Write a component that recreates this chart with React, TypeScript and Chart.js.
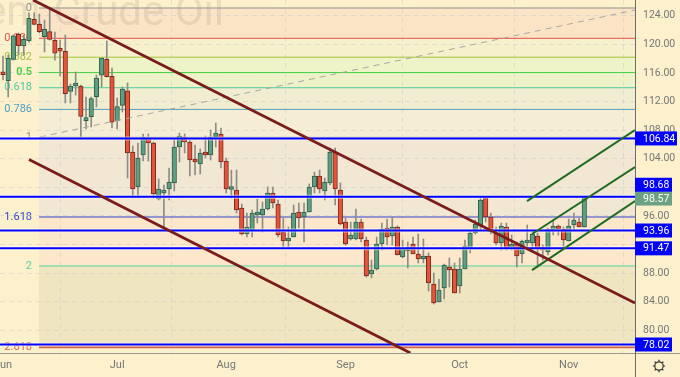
import React, { useEffect, useRef } from "react";
import { Chart, registerables } from "chart.js";

Chart.register(...registerables);

const opens = [116.03,114.91,117.9,121.4,119.77,120.5,123.5,122.8,121.07,121.77,120.56,119.44,119.03,113.43,114.17,114.17,109.32,109.88,112.68,115.67,117.9,115.53,109.32,111.47,113.5,104.94,100.05,104.52,106.9,106.2,98.37,99.21,99.77,100.61,105.64,107.04,106.34,103.82,103.26,104.66,104.52,107.04,107.46,103.68,99.7,99.63,97.11,93.47,94.03,96.13,96.13,96.97,99.21,97.67,93.75,92.49,93.05,96.55,95.85,96.55,100.05,101.58,99.49,100.61,104.94,99.63,95.15,92.77,92.77,95.15,92.63,87.88,88.58,92.07,94.31,93.19,94.45,90.26,91.1,92.07,90.68,89.98,90.4,86.48,83.96,85.92,88.86,88.58,86.2,88.58,91.52,93.61,94.59,98.51,95.85,93.61,92.21,94.45,91.65,92.07,90.68,92.21,92.21,93.19,91.51,90.96,94.03,94.45,94.17,92.49,94.73,95.15,94.45];
const highs = [118.37,118.51,121.3,121.58,121.3,124.4,124.4,124.24,123.4,125.08,121.72,120.6,121.3,114.45,116.13,114.3,112.63,112.63,115.71,118.09,120.47,116.69,112.49,114.03,114.6,105.78,106.2,107.46,107.46,106.34,101.17,100.33,102.7,106.62,107.6,107.46,106.62,105.92,105.36,107.18,108.02,109,108.3,104.1,102.4,102.42,97.67,96.41,96.83,98.37,97.95,100.05,100.05,98.23,95.71,94.45,97.53,97.81,97.81,100.47,102.14,102.42,101.3,105.5,105.5,100.61,95.71,95.15,96.97,95.57,93.05,89.84,93.05,95.01,95.57,95.85,94.59,92.63,92.35,93.05,93.47,92.77,90.82,88.02,87.18,89.28,90.12,89.42,90.12,92.63,93.89,95.43,98.51,98.51,96.41,94.45,95.01,95.01,93.33,92.35,92.63,94.73,93.61,93.61,91.93,94.31,95.43,94.73,94.45,95.57,96.41,95.71,98.79];
const lows = [115.01,112.63,117.8,118.5,118.5,120.3,122.7,121.58,118.93,120.6,117.8,115.57,111.8,111.8,112.9,107.04,108.16,108.44,111.24,114.03,115.43,108.3,108.16,110.54,101.3,98.51,98.51,103.68,103.68,98.51,98.23,94.45,98.23,99.49,103.54,104.8,101.58,101.72,101.86,104.1,103.82,105.64,102.7,99.21,98.5,96.41,93.33,93.05,93.05,95.01,93.75,96.83,97.11,93.05,91.65,91.65,93.05,94.31,92.35,96.55,99.21,99.21,98.23,100.33,97.53,94.73,91.93,92.63,92.63,92.35,87.46,87.32,88.44,91.23,91.93,91.93,90.54,90.12,88.72,90.68,89.42,89.42,85.5,83.68,83.96,84.38,86.06,85.22,85.22,88.58,90.82,93.47,94.03,95.15,93.47,91.93,91.23,91.23,91.23,88.86,89.42,91.23,90.96,88.86,89.84,90.54,93.33,93.33,91.51,92.49,94.03,94.45,94.45];
const closes = [115.75,118.05,121.2,119.8,120.7,123.64,122.8,121.77,122.1,120.7,118.75,119.03,113.1,114.17,114.55,109.93,109.65,112.4,115.29,118.09,115.47,109.1,111.28,113.75,104.8,99.77,104.1,107.04,106.2,99.07,99.77,99.63,100.75,105.64,107.18,106.34,103.82,103.54,104.8,104.52,107.04,107.6,103.54,99.77,99.8,96.83,93.47,94.45,96.41,96.41,96.97,99.21,97.81,93.33,92.49,92.91,96.41,95.71,96.55,100.05,101.58,99.77,100.75,104.94,99.77,94.87,92.07,93.33,95.15,92.77,87.6,88.44,92.07,94.17,93.05,94.45,90.54,91.51,91.65,90.68,89.98,90.26,86.62,83.82,85.64,89.14,88.44,85.22,88.58,91.79,93.61,94.87,98.23,95.85,93.75,92.21,94.59,91.52,91.79,90.4,92.49,92.63,93.47,91.37,91.23,94.17,94.59,94.17,92.63,94.59,95.43,94.45,98.51];

const monthTicks = [0, 22, 43, 66, 88, 109];
const monthLabels = ["Jun", "Jul", "Aug", "Sep", "Oct", "Nov"];
const priceTicks = [124, 120, 116, 112, 108, 104, 100, 96, 92, 88, 84, 80];
const hiddenPriceLabels = [100, 92];

const fibLabels = ["0", "0.236", "0.382", "0.5", "0.618", "0.786", "1", "1.618", "2", "2.618"];
const fibValues = [125.08, 120.84, 118.2, 116.05, 113.93, 110.9, 107.0, 95.85, 89.0, 77.65];
const fibColors = ["#8f8f8f", "#e2504a", "#a4c23e", "#45d045", "#4fc9a0", "#4e9fc4", "#8f8f8f", "#3344cc", "#5ad2a4", "#d2654f"];
const fibBands = ["#fbe4c6", "#f6f0cc", "#eef3c8", "#edf2c8", "#f1edd0", "#f6eed4", "#f2e7d3", "#fde7cb", "#efe5c0"];

const supportLevels = [106.84, 98.68, 93.96, 91.47, 78.02];
const lastPrice = 98.57;
const tagNudges = [0, -12, 1, 0, 0];

const downA = [{ x: 5.78, y: 126.2 }, { x: 121.77, y: 83.82 }];
const downB = [{ x: 5.01, y: 103.9 }, { x: 78.5, y: 76.83 }];
const upA = [{ x: 100.96, y: 98.08 }, { x: 121.77, y: 108.0 }];
const upB = [{ x: 101.93, y: 93.47 }, { x: 121.77, y: 102.84 }];
const upC = [{ x: 101.93, y: 88.43 }, { x: 121.77, y: 98.08 }];
const fibDiagonal = [{ x: 7.13, y: 107.04 }, { x: 121.77, y: 124.8 }];

const X_MIN = -0.578;
const X_MAX = 121.77;
const FIB_START = 6.94;
const Y_MIN = 76.83;
const Y_MAX = 126.2;

const FONT = "Roboto";
const BG = "#fdf1cd";

const decor = {
  id: "decor",
  beforeDraw(chart: any) {
    const { ctx, scales, width, height, chartArea } = chart;
    const { x, y } = scales;
    ctx.save();
    ctx.fillStyle = BG;
    ctx.fillRect(0, 0, width, height);
    const left = x.getPixelForValue(FIB_START);
    fibBands.forEach((c, i) => {
      const top = y.getPixelForValue(fibValues[i]);
      const bot = y.getPixelForValue(fibValues[i + 1]);
      ctx.fillStyle = c;
      ctx.fillRect(left, top, chartArea.right - left, bot - top);
    });
    ctx.font = `42px ${FONT}`;
    ctx.fillStyle = "rgba(120,100,80,0.14)";
    ctx.textAlign = "right";
    ctx.textBaseline = "alphabetic";
    ctx.fillText("Brent Crude Oil", 224, 25);
    ctx.textBaseline = "middle";
    fibLabels.forEach((t, i) => {
      ctx.fillStyle = fibColors[i];
      ctx.font = t === "0.5" ? `bold 11px ${FONT}` : `11px ${FONT}`;
      ctx.fillText(t, 32, y.getPixelForValue(fibValues[i]));
    });
    ctx.restore();
  },
  afterDraw(chart: any) {
    const { ctx, scales, width, height, chartArea } = chart;
    const { y } = scales;
    ctx.save();
    ctx.strokeStyle = "#9a9a90";
    ctx.lineWidth = 1;
    ctx.beginPath();
    ctx.moveTo(0, chartArea.bottom + 0.5);
    ctx.lineTo(width, chartArea.bottom + 0.5);
    ctx.stroke();
    ctx.strokeStyle = "#6d6d66";
    ctx.beginPath();
    ctx.moveTo(chartArea.right + 0.5, 0);
    ctx.lineTo(chartArea.right + 0.5, height);
    ctx.stroke();
    ctx.textBaseline = "middle";
    ctx.textAlign = "left";
    const tag = (v: number, nudge: number, fill: string, w: number) => {
      const cy = y.getPixelForValue(v) + nudge;
      ctx.fillStyle = fill;
      ctx.fillRect(chartArea.right, cy - 7, w, 14);
      ctx.fillStyle = "#ffffff";
      ctx.font = `10.5px ${FONT}`;
      ctx.fillText(v.toFixed(2), chartArea.right + 8, cy + 0.5);
    };
    tag(lastPrice, tagNudges[2], "#6ca183", 37);
    supportLevels.forEach((v, i) => {
      const nudge = i === 2 ? 0 : tagNudges[i];
      tag(v, nudge, "#0000ff", v > 100 ? 42 : 37);
    });
    const gx = 659;
    const gy = 366;
    ctx.strokeStyle = "#333333";
    ctx.lineWidth = 1.2;
    ctx.beginPath();
    ctx.arc(gx, gy, 4.2, 0, Math.PI * 2);
    for (let i = 0; i < 8; i++) {
      const a = (i * Math.PI) / 4;
      ctx.moveTo(gx + Math.cos(a) * 4.2, gy + Math.sin(a) * 4.2);
      ctx.lineTo(gx + Math.cos(a) * 6.2, gy + Math.sin(a) * 6.2);
    }
    ctx.stroke();
    ctx.restore();
  },
};

export default function App() {
  const ref = useRef<HTMLCanvasElement | null>(null);
  useEffect(() => {
    const idx = opens.map((_, i) => i);
    const up = idx.map((i) => closes[i] >= opens[i]);
    const straight = (pts: any[], color: string, w: number, order: number, dash?: number[]) => ({
      type: "line",
      data: pts,
      borderColor: color,
      borderWidth: w,
      pointRadius: 0,
      borderDash: dash || [],
      order,
    });
    const level = (v: number, from: number) => [{ x: from, y: v }, { x: X_MAX, y: v }];
    const datasets: any[] = [
      ...fibValues.map((v, i) =>
        straight(level(v, FIB_START), fibColors[i], i === 9 ? 2 : 1, 40)
      ),
      {
        type: "bar",
        data: idx.map((i) => ({ x: i, y: [lows[i], highs[i]] })),
        backgroundColor: "#8d8d86",
        borderWidth: 0,
        barThickness: 1,
        grouped: false,
        order: 30,
      },
      {
        type: "bar",
        data: idx.map((i) => ({ x: i, y: [opens[i], closes[i]] })),
        backgroundColor: up.map((u) => (u ? "#5f9e80" : "#e2553c")),
        borderColor: up.map((u) => (u ? "#2f5f49" : "#7a2a1c")),
        borderWidth: 1,
        borderSkipped: false,
        barThickness: 4.5,
        minBarLength: 3,
        grouped: false,
        order: 20,
      },
      straight(fibDiagonal, "#a8a8a0", 1, 15, [6, 5]),
      straight(level(lastPrice, X_MIN), "#5e8a70", 1, 14, [1, 2]),
      ...supportLevels.map((v) => straight(level(v, X_MIN), "rgba(255,255,255,0.55)", 4, 12)),
      ...supportLevels.map((v) => straight(level(v, X_MIN), "#0000ff", 2, 10)),
      straight(downA, "#7b1c1c", 2.8, 5),
      straight(downB, "#7b1c1c", 2.8, 5),
      straight(upA, "#1f6b22", 2, 5),
      straight(upB, "#1f6b22", 2, 5),
      straight(upC, "#1f6b22", 2, 5),
    ];
    const chart = new Chart(ref.current as HTMLCanvasElement, {
      type: "bar",
      data: { datasets },
      plugins: [decor],
      options: {
        animation: false,
        responsive: false,
        events: [],
        layout: { padding: 0 },
        plugins: { legend: { display: false }, tooltip: { enabled: false } },
        scales: {
          x: {
            type: "linear",
            min: X_MIN,
            max: X_MAX,
            offset: false,
            grid: { color: "rgba(205,205,205,0.55)", drawTicks: false },
            border: { display: false, dash: [5, 4] },
            afterBuildTicks: (s: any) => {
              s.ticks = monthTicks.map((value) => ({ value }));
            },
            afterFit: (s: any) => {
              s.height = 24;
              s.paddingLeft = 0;
              s.paddingRight = 0;
            },
            ticks: {
              autoSkip: false,
              maxRotation: 0,
              padding: 6,
              color: "#767676",
              font: { family: FONT, size: 11 },
              callback: (v: any) => monthLabels[monthTicks.indexOf(v)],
            },
          },
          y: {
            type: "linear",
            position: "right",
            min: Y_MIN,
            max: Y_MAX,
            grid: { color: "rgba(205,205,205,0.55)", drawTicks: false },
            border: { display: false, dash: [5, 4] },
            afterBuildTicks: (s: any) => {
              s.ticks = priceTicks.map((value) => ({ value }));
            },
            afterFit: (s: any) => {
              s.width = 45;
              s.paddingTop = 0;
              s.paddingBottom = 0;
            },
            ticks: {
              padding: 8,
              color: "#767676",
              font: { family: FONT, size: 10.5 },
              callback: (v: any) => (hiddenPriceLabels.includes(v) ? "" : Number(v).toFixed(2)),
            },
          },
        },
      } as any,
    } as any);
    return () => chart.destroy();
  }, []);
  return (
    <div style={{ position: "fixed", left: 0, top: 0 }}>
      <canvas ref={ref} width={680} height={377} style={{ display: "block" }} />
    </div>
  );
}
